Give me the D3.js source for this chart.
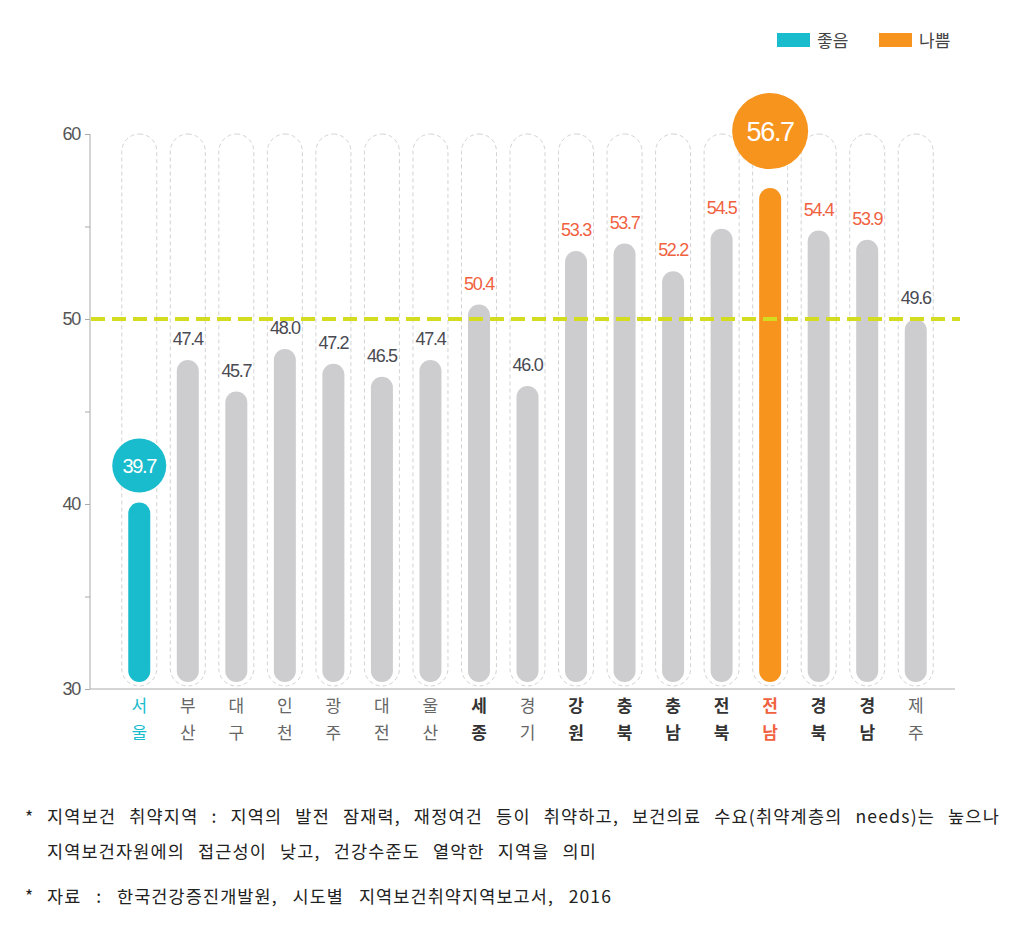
<!DOCTYPE html>
<html><head><meta charset="utf-8">
<script src="https://cdn.jsdelivr.net/npm/d3@7"></script>
<style>
body{margin:0;background:#fff;}
svg{display:block;}
</style></head>
<body>
<svg id="chart" width="1026" height="926"></svg>
<script>
const categories = ["서울","부산","대구","인천","광주","대전","울산","세종","경기","강원","충북","충남","전북","전남","경북","경남","제주"];
const values = [39.7,47.4,45.7,48.0,47.2,46.5,47.4,50.4,46.0,53.3,53.7,52.2,54.5,56.7,54.4,53.9,49.6];
const yTicks = [30,40,50,60];
const yMinorTicks = [35,45,55];
const threshold = 50;
const legendLabels = ["좋음","나쁨"];
const notes = [
  "지역보건 취약지역 : 지역의 발전 잠재력, 재정여건 등이 취약하고, 보건의료 수요(취약계층의 needs)는 높으나",
  "지역보건자원에의 접근성이 낮고, 건강수준도 열악한 지역을 의미",
  "자료 : 한국건강증진개발원, 시도별 지역보건취약지역보고서, 2016"
];

const C_GOOD = "#19bccc", C_BAD = "#f7941d", C_RED = "#f0623f", C_GRAY = "#cdcdcf";
const numFont = "'Liberation Sans', Arial, sans-serif";
const krFont = "'Noto Sans CJK KR', 'Noto Sans', sans-serif";

const svg = d3.select("#chart");
const x = d3.scaleBand().domain(categories).range([115, 940]).padding(0);
const y = d3.scaleLinear().domain([30, 60]).range([689, 134]);

const minV = d3.min(values), maxV = d3.max(values);
const data = categories.map((c, i) => ({c, v: values[i]}));

// Axes
const yAxis = svg.append("g").attr("transform", "translate(90,0)")
  .call(d3.axisLeft(y).tickValues(yTicks.concat(yMinorTicks)).tickSize(5).tickPadding(5)
    .tickFormat(d => yTicks.includes(d) ? d : ""));
yAxis.select(".domain").attr("stroke", "#aaa").attr("d", `M-0,${y(60)}V${y(30)}`);
yAxis.selectAll(".tick line").attr("stroke", "#aaa");
yAxis.selectAll(".tick text").attr("font-family", numFont).attr("font-size", 18)
  .attr("fill", "#555").attr("letter-spacing", "-1.3");

svg.append("line").attr("x1", 90).attr("x2", 955).attr("y1", y(30)).attr("y2", y(30))
  .attr("stroke", "#aaa").attr("stroke-width", 1);

// Capsule backgrounds
const capW = 35;
svg.append("g").selectAll("rect").data(data).join("rect")
  .attr("x", d => x(d.c) + x.bandwidth()/2 - capW/2)
  .attr("width", capW)
  .attr("y", y(60))
  .attr("height", y(30) - 3 - y(60))
  .attr("rx", capW/2)
  .attr("fill", "none").attr("stroke", "#d2d2d2").attr("stroke-width", 1)
  .attr("stroke-dasharray", "4,3");

// Bars
const barW = 22, off = 7;
svg.append("g").selectAll("rect").data(data).join("rect")
  .attr("x", d => x(d.c) + x.bandwidth()/2 - barW/2)
  .attr("width", barW)
  .attr("y", d => y(d.v) - off)
  .attr("height", d => y(30) - off - (y(d.v) - off))
  .attr("rx", barW/2)
  .attr("fill", d => d.v === minV ? C_GOOD : d.v === maxV ? C_BAD : C_GRAY);

// Threshold dashed line
svg.append("line").attr("x1", 91).attr("x2", 960).attr("y1", y(threshold)).attr("y2", y(threshold))
  .attr("stroke", "#d3dc1f").attr("stroke-width", 4).attr("stroke-dasharray", "14,7");

// Value labels
svg.append("g").selectAll("text").data(data.filter(d => d.v !== minV && d.v !== maxV)).join("text")
  .attr("x", d => x(d.c) + x.bandwidth()/2)
  .attr("y", d => y(d.v) - off - 15)
  .attr("text-anchor", "middle")
  .attr("font-family", numFont).attr("font-size", 18).attr("letter-spacing", "-1.3")
  .attr("fill", d => d.v > threshold ? C_RED : "#4a4a52")
  .text(d => d.v.toFixed(1));

// Highlight circles
const circ = [{d: data.find(d => d.v === minV), r: 27, col: C_GOOD, fs: 20, gap: 37},
              {d: data.find(d => d.v === maxV), r: 38, col: C_BAD, fs: 27, gap: 57}];
const cg = svg.append("g").selectAll("g").data(circ).join("g")
  .attr("transform", o => `translate(${x(o.d.c) + x.bandwidth()/2},${y(o.d.v) - off - o.gap})`);
cg.append("circle").attr("r", o => o.r).attr("fill", o => o.col);
cg.append("text").attr("text-anchor", "middle").attr("dy", "0.36em")
  .attr("font-family", numFont).attr("font-size", o => o.fs).attr("letter-spacing", "-1.3")
  .attr("fill", "#fff").text(o => o.d.v.toFixed(1));

// X labels (stacked characters)
const xl = svg.append("g").selectAll("text").data(data).join("text")
  .attr("x", d => x(d.c) + x.bandwidth()/2)
  .attr("text-anchor", "middle")
  .attr("font-family", krFont).attr("font-size", 17)
  .attr("font-weight", d => d.v > threshold ? "bold" : "normal")
  .attr("fill", d => d.v === minV ? C_GOOD : d.v === maxV ? C_RED : (d.v > threshold ? "#333" : "#666"));
xl.selectAll("tspan").data(d => d.c.split("")).join("tspan")
  .attr("x", function(){ return this.parentNode.getAttribute("x"); })
  .attr("y", (ch, i) => 712 + i * 27)
  .text(ch => ch);

// Legend
const lg = svg.append("g").selectAll("g").data(legendLabels).join("g")
  .attr("transform", (d, i) => `translate(${777 + i * 102},33)`);
lg.append("rect").attr("width", 33).attr("height", 14).attr("fill", (d, i) => i === 0 ? C_GOOD : C_BAD);
lg.append("text").attr("x", 40).attr("y", 14).attr("font-family", krFont).attr("font-size", 17)
  .attr("fill", "#444").text(d => d);

// Notes
const nf = svg.append("g").attr("font-family", krFont).attr("font-size", 17.5).attr("fill", "#222");
nf.append("text").attr("x", 25).attr("y", 824).text("*");
nf.append("text").attr("x", 25).attr("y", 903).text("*");
const nx = [47, 47, 47], ny = [823, 858, 903], nl = [953, 550, 565];
nf.selectAll("text.n").data(notes).join("text").attr("class", "n")
  .attr("x", (d, i) => nx[i]).attr("y", (d, i) => ny[i])
  .text(d => d)
  .each(function(d, i){
    const sel = d3.select(this);
    const w0 = this.getComputedTextLength();
    const n = d.length;
    const extra = nl[i] - w0;
    if (extra > 0) {
      sel.attr("letter-spacing", (extra * 0.45 / n).toFixed(2));
      const w1 = this.getComputedTextLength();
      const spaces = (d.match(/ /g) || []).length;
      if (spaces > 0) sel.attr("word-spacing", Math.max(0, (nl[i] - w1) / spaces).toFixed(2));
    }
  });
</script>
</body></html>
